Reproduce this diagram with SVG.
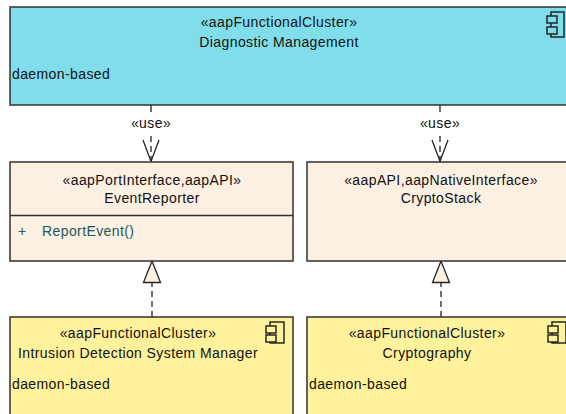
<svg xmlns="http://www.w3.org/2000/svg" width="566" height="414" viewBox="0 0 566 414">
<defs>
<style>
.box{stroke:#303030;stroke-width:1.5}
.cyan{fill:#80DEEA}
.beige{fill:#FBF0E2}
.yellow{fill:#FFF29C}
.icon{fill:none;stroke:#1a1a1a;stroke-width:1.4}
.t{font-family:"Liberation Sans",Arial,sans-serif;font-size:14px;fill:#111111;letter-spacing:0.4px}
.c{text-anchor:middle}
.op{fill:#245858}
.conn{stroke:#222222;stroke-width:1.3;fill:none}
.dash{stroke-dasharray:6,4}
</style>
</defs>
<rect width="566" height="414" fill="#ffffff"/>

<g id="connectors">
  <line class="conn" x1="151" y1="105" x2="151" y2="112"/>
  <line class="conn dash" x1="151" y1="136" x2="151" y2="161"/>
  <polyline class="conn" points="143,140 151,161.5 159,140"/>
  <text class="t c" x="151" y="128">«use»</text>
  <line class="conn" x1="440" y1="105" x2="440" y2="112"/>
  <line class="conn dash" x1="440" y1="136" x2="440" y2="161"/>
  <polyline class="conn" points="432,140 440,161.5 448,140"/>
  <text class="t c" x="440" y="128">«use»</text>
  <line class="conn dash" x1="152" y1="317" x2="152" y2="283"/>
  <polygon class="conn" points="152,261 143.5,282.5 160.5,282.5" style="fill:#FBF0E2"/>
  <line class="conn dash" x1="441" y1="317" x2="441" y2="283"/>
  <polygon class="conn" points="441,261 432.5,282.5 449.5,282.5" style="fill:#FBF0E2"/>
</g>

<g id="diagnostic-management">
  <rect class="box cyan" x="10" y="7" width="570" height="98"/>
  <rect class="icon" x="551" y="12" width="13" height="25"/>
  <rect class="icon" x="547" y="16" width="10" height="7" style="fill:#80DEEA"/>
  <rect class="icon" x="547" y="27" width="10" height="7" style="fill:#80DEEA"/>
  <text class="t c" x="279" y="27">«aapFunctionalCluster»</text>
  <text class="t c" x="279" y="47">Diagnostic Management</text>
  <text class="t" x="12" y="79">daemon-based</text>
</g>

<g id="event-reporter">
  <rect class="box beige" x="10" y="162" width="283" height="99"/>
  <line class="box" x1="10" y1="215.5" x2="293" y2="215.5"/>
  <text class="t c" x="152" y="185">«aapPortInterface,aapAPI»</text>
  <text class="t c" x="152" y="203">EventReporter</text>
  <text class="t op" x="18" y="236">+</text>
  <text class="t op" x="42" y="236">ReportEvent()</text>
</g>

<g id="crypto-stack">
  <rect class="box beige" x="307" y="162" width="270" height="99"/>
  <text class="t c" x="441" y="185">«aapAPI,aapNativeInterface»</text>
  <text class="t c" x="441" y="203">CryptoStack</text>
</g>

<g id="ids-manager">
  <rect class="box yellow" x="10" y="317" width="283" height="110"/>
  <rect class="icon" x="270" y="322" width="14" height="21"/>
  <rect class="icon" x="266" y="326" width="10" height="7" style="fill:#FFF29C"/>
  <rect class="icon" x="266" y="335" width="10" height="7" style="fill:#FFF29C"/>
  <text class="t c" x="138" y="338">«aapFunctionalCluster»</text>
  <text class="t c" x="138" y="358">Intrusion Detection System Manager</text>
  <text class="t" x="12" y="389">daemon-based</text>
</g>

<g id="cryptography">
  <rect class="box yellow" x="307" y="317" width="270" height="110"/>
  <rect class="icon" x="552" y="322" width="14" height="21"/>
  <rect class="icon" x="548" y="326" width="10" height="7" style="fill:#FFF29C"/>
  <rect class="icon" x="548" y="335" width="10" height="7" style="fill:#FFF29C"/>
  <text class="t c" x="427" y="338">«aapFunctionalCluster»</text>
  <text class="t c" x="427" y="358">Cryptography</text>
  <text class="t" x="309" y="389">daemon-based</text>
</g>
</svg>
